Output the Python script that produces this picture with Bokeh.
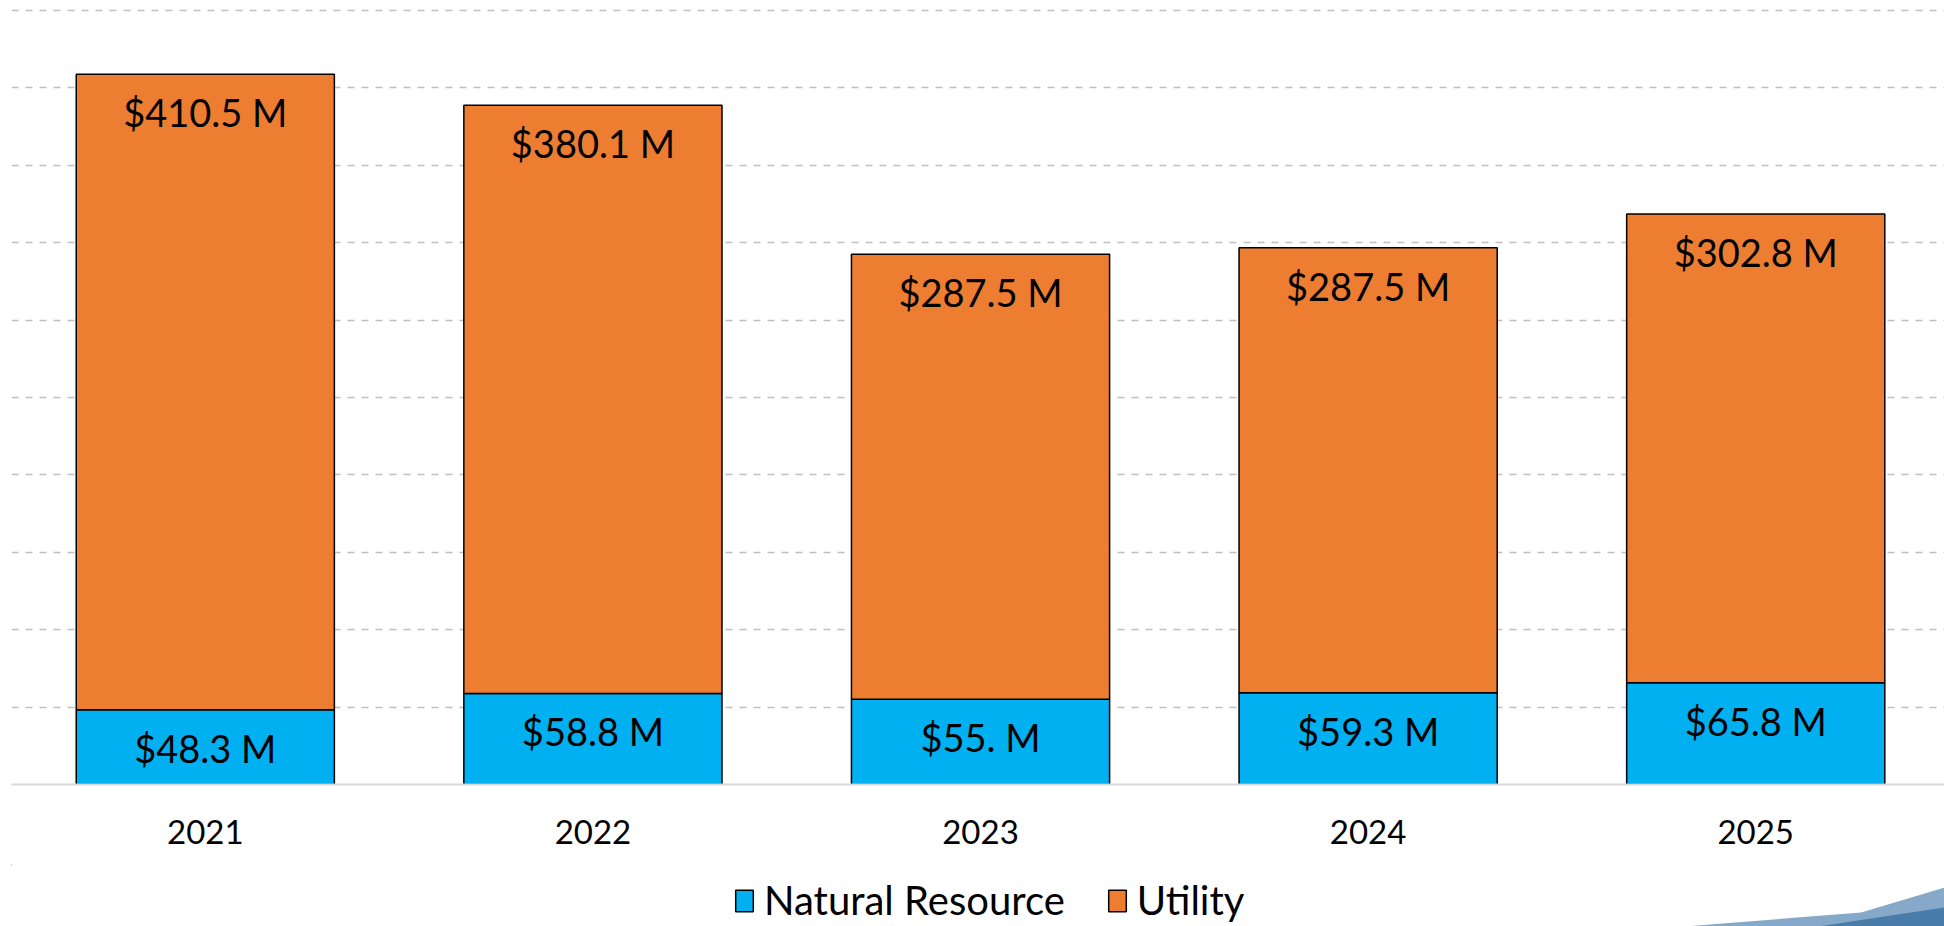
from bokeh.plotting import figure
from bokeh.layouts import column
from bokeh.models import (ColumnDataSource, Range1d, FixedTicker, SingleIntervalTicker,
                          Legend, LegendItem)
from bokeh.core.properties import value
from bokeh.embed import file_html
from bokeh.resources import INLINE

# ---- data ----
years = ["2021", "2022", "2023", "2024", "2025"]
natural_resource = [48.3, 58.8, 55.0, 59.3, 65.8]
utility = [410.5, 380.1, 287.5, 287.5, 302.8]
series_names = ["Natural Resource", "Utility"]

BLUE = "#00B0F0"
ORANGE = "#ED7D31"
FONT = "Lato"


def fmt(v):
    return "$" + format(v, ".1f").rstrip("0") + " M"


x = list(range(len(years)))
tops_nr = natural_resource
tops_ut = [a + b for a, b in zip(natural_resource, utility)]

src = ColumnDataSource(dict(x=x, nr=natural_resource, ut=utility))

# ---------------- main chart ----------------
p = figure(width=1944, height=864, output_backend="svg", toolbar_location=None,
           x_range=Range1d(-0.5, 4.487), y_range=Range1d(0, 506.5),
           min_border_left=11, min_border_right=0, min_border_top=0, min_border_bottom=80)
p.outline_line_color = None
p.background_fill_color = "white"
p.border_fill_color = "white"

rs = p.vbar_stack(["nr", "ut"], x="x", width=0.666, color=[BLUE, ORANGE],
                  line_color="black", line_width=1.5, source=src)

# data labels (inside end)
lbl_src = ColumnDataSource(dict(
    x=x + x,
    y=tops_nr + tops_ut,
    t=[fmt(v) for v in natural_resource] + [fmt(v) for v in utility],
))
p.text(x="x", y="y", text="t", source=lbl_src, text_align="center",
       text_baseline="alphabetic", y_offset=38, text_font=value(FONT),
       text_font_size="38px", text_color="black")

p.yaxis.visible = False
p.ygrid.ticker = SingleIntervalTicker(interval=50)
p.ygrid.grid_line_color = "#C0C0C0"
p.ygrid.grid_line_dash = "7 7"
p.ygrid.grid_line_width = 1.5
p.xgrid.visible = False

xa = p.xaxis[0]
xa.ticker = FixedTicker(ticks=x)
xa.major_label_overrides = {i: y for i, y in zip(x, years)}
xa.major_tick_in = 0
xa.major_tick_out = 0
xa.minor_tick_in = 0
xa.minor_tick_out = 0
xa.axis_line_color = "#D9D9D9"
xa.axis_line_width = 2
xa.major_label_standoff = 35
xa.major_label_text_font = FONT
xa.major_label_text_font_size = "33px"
xa.major_label_text_color = "black"

# ---------------- legend strip ----------------
H2 = 62
p2 = figure(width=1944, height=H2, output_backend="svg", toolbar_location=None,
            x_range=Range1d(0, 1944), y_range=Range1d(H2, 0),
            min_border=0, x_axis_location=None, y_axis_location=None)
p2.outline_line_color = None
p2.grid.visible = False
p2.background_fill_color = "white"
p2.border_fill_color = "white"

# decorative swoosh of the slide template (bottom-right corner)
deco_light_xs = [1683, 1860, 1944, 1944]
deco_light_ys = [62, 48, 23, 62]
deco_dark_xs = [1817, 1944, 1944]
deco_dark_ys = [62, 43, 62]
p2.patch(deco_light_xs, deco_light_ys, fill_color="#86A9C9", line_color=None)
p2.patch(deco_dark_xs, deco_dark_ys, fill_color="#4A7CAA", line_color=None)

# legend proxies (kept outside the visible range; only their swatches show)
proxy_src = ColumnDataSource(dict(x=[-100], top=[0]))
px_nr = p2.vbar(x="x", top="top", width=1, source=proxy_src,
                fill_color=BLUE, line_color="black", line_width=1.5)
px_ut = p2.vbar(x="x", top="top", width=1, source=proxy_src,
                fill_color=ORANGE, line_color="black", line_width=1.5)

legend = Legend(items=[LegendItem(label=series_names[0], renderers=[px_nr]),
                       LegendItem(label=series_names[1], renderers=[px_ut])],
                orientation="horizontal", location=(722, 2),
                label_text_font=FONT, label_text_font_size="40px",
                label_text_color="black", glyph_width=22, glyph_height=27,
                label_standoff=9, spacing=41, padding=0, margin=0,
                border_line_color=None, background_fill_alpha=0)
p2.add_layout(legend)

layout = column(p, p2, spacing=0)
open("out.html", "w").write(file_html(layout, INLINE))
